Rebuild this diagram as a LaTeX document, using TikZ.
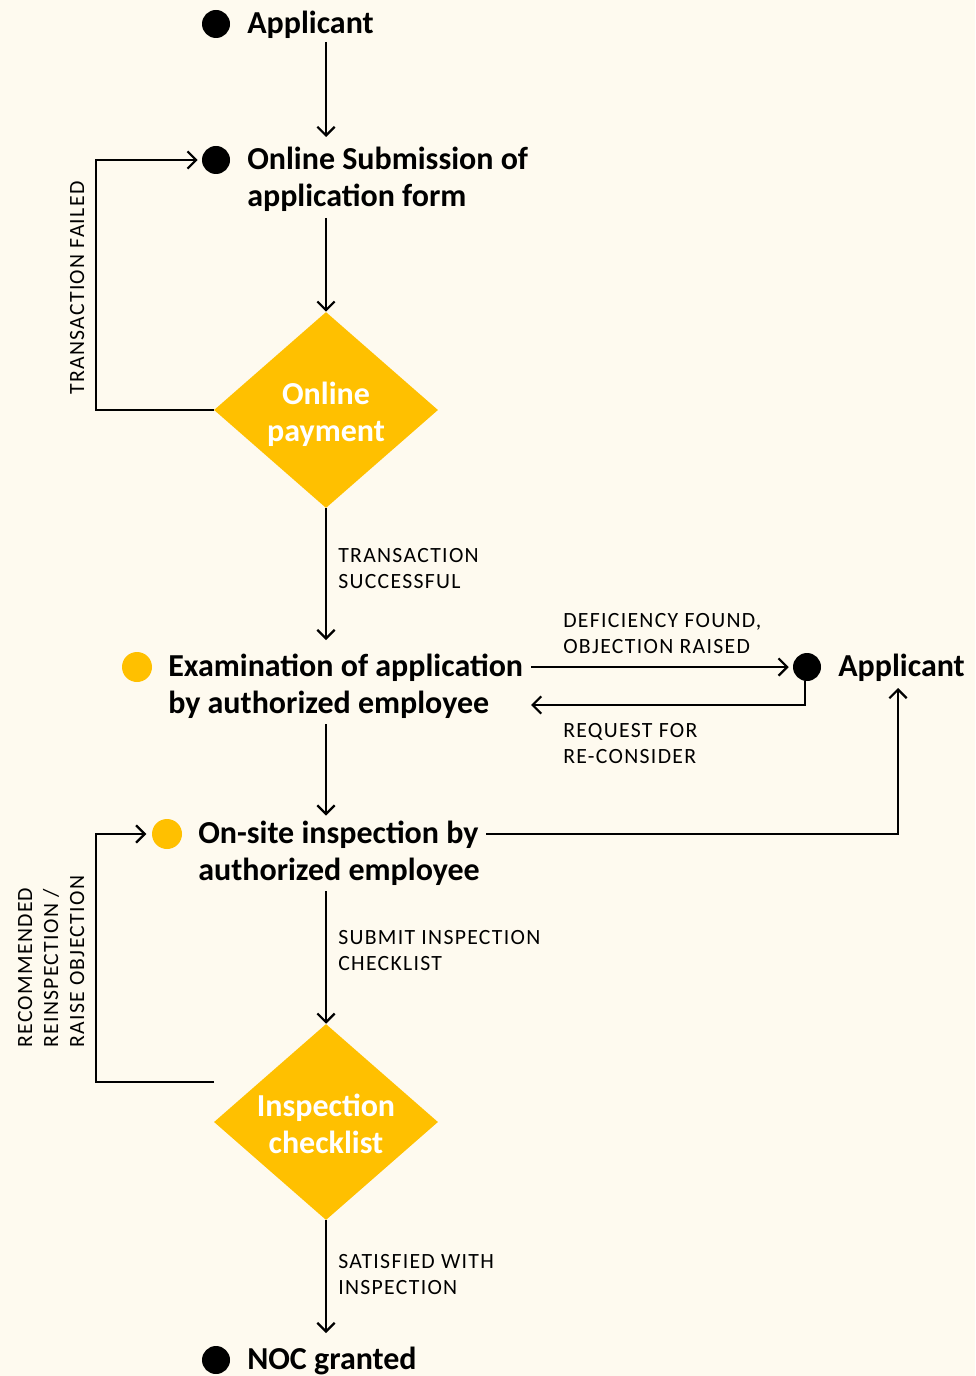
\documentclass[tikz,border=0pt]{standalone}
\usepackage{fontspec}
\setmainfont{Carlito}
\newfontfamily\tagfont[LetterSpace=6]{Carlito}
\usetikzlibrary{arrows.meta,shapes.geometric}
\definecolor{paper}{HTML}{FEFAEF}
\definecolor{gold}{HTML}{FFC000}
% stacked lines whose baseline is that of the first line
\newcommand\lines[1]{\begin{tabular}[t]{@{}l@{}}#1\end{tabular}}
\tikzset{
  stepfont/.style={font=\fontsize{24}{27.75}\selectfont\bfseries},
  steptext/.style={stepfont, anchor=base west, inner sep=0pt},
  tag/.style={font=\tagfont\fontsize{16.3}{19.5}\selectfont, anchor=base west, inner sep=0pt},
  blackdot/.style={circle, fill=black, inner sep=0pt, minimum size=21pt},
  golddot/.style={circle, fill=gold, inner sep=0pt, minimum size=22.5pt},
  decision/.style={diamond, fill=gold, inner sep=0pt, minimum width=168pt,
    minimum height=147pt},
  choicetext/.style={stepfont, text=white, align=center, inner sep=0pt},
  flow/.style={line width=1.7pt, -{Straight Barb[length=6.5pt,width=13pt]}}
}
\begin{document}
\begin{tikzpicture}[x=0.75pt, y=-0.75pt]
  \fill[paper] (0,0) rectangle (975,1376);
  \useasboundingbox (0,0) rectangle (975,1376);

  % steps
  \node[blackdot] (dotA) at (216,24) {};
  \node[steptext] (applicantTop) at (247,33.5) {Applicant};

  \node[blackdot] (dotB) at (216,160) {};
  \node[steptext] (submission) at (247,169.5) {\lines{Online Submission of\\application form}};

  \node[decision] (payment) at (326,410) {};
  \node[choicetext] (paymentText) at (326,414) {Online\\payment};

  \node[golddot] (dotC) at (137,667) {};
  \node[steptext] (examination) at (168,676) {\lines{Examination of application\\by authorized employee}};

  \node[blackdot] (dotD) at (807,667) {};
  \node[steptext] (applicantRight) at (838,676.5) {Applicant};

  \node[golddot] (dotE) at (167,834) {};
  \node[steptext] (inspection) at (198,843) {\lines{On-site inspection by\\authorized employee}};

  \node[decision] (checklist) at (326,1122) {};
  \node[choicetext] (checklistText) at (326,1124) {Inspection\\checklist};

  \node[blackdot] (dotF) at (216,1360) {};
  \node[steptext] (noc) at (247,1369.5) {NOC granted};

  % free ends of connectors
  \coordinate (axisTop) at (326,42);
  \coordinate (submissionIn) at (326,137);
  \coordinate (examinationIn) at (326,640);
  \coordinate (failCorner) at (96,410);
  \coordinate (deficiencyOut) at (531,667);
  \coordinate (reconsiderIn) at (531,705);
  \coordinate (inspectionOut) at (486,834);
  \coordinate (applicantIn) at (898,688);
  \coordinate (recheckOut) at (214,1082);
  \coordinate (recheckCorner) at (96,1082);
  \coordinate (nocIn) at (326,1333);

  % connectors
  \draw[flow] (axisTop) -- (submissionIn);
  \draw[flow] (submission.south -| payment.north) -- (payment.north);
  \draw[flow] (payment.west) -- (failCorner) |- ([xshift=-3pt]dotB.west);
  \draw[flow] (payment.south) -- (examinationIn);
  \draw[flow] (deficiencyOut) -- ([xshift=-3pt]dotD.west);
  \draw[flow] (dotD.south -| 805,0) |- (reconsiderIn);
  \draw[flow] (examination.south -| payment.north) -- ([yshift=1pt]inspection.north -| payment.north);
  \draw[flow] (inspectionOut) -| (applicantIn);
  \draw[flow] (inspection.south -| payment.north) -- (checklist.north);
  \draw[flow] (recheckOut) -- (recheckCorner) |- ([xshift=-4pt]dotE.west);
  \draw[flow] (checklist.south) -- (nocIn);

  % connector labels
  \node[tag, rotate=90] (failedTag) at (84,395) {TRANSACTION FAILED};
  \node[tag] (successTag) at (338,562) {\lines{TRANSACTION\\SUCCESSFUL}};
  \node[tag] (deficiencyTag) at (563,627) {\lines{DEFICIENCY FOUND,\\OBJECTION RAISED}};
  \node[tag] (reconsiderTag) at (563,737.5) {\lines{REQUEST FOR\\RE-CONSIDER}};
  \node[tag] (submitTag) at (338,944) {\lines{SUBMIT INSPECTION\\CHECKLIST}};
  \node[tag, rotate=90] (recheckTag) at (32,1048) {\lines{RECOMMENDED\\REINSPECTION /\\RAISE OBJECTION}};
  \node[tag] (satisfiedTag) at (338,1268) {\lines{SATISFIED WITH\\INSPECTION}};
\end{tikzpicture}
\end{document}
